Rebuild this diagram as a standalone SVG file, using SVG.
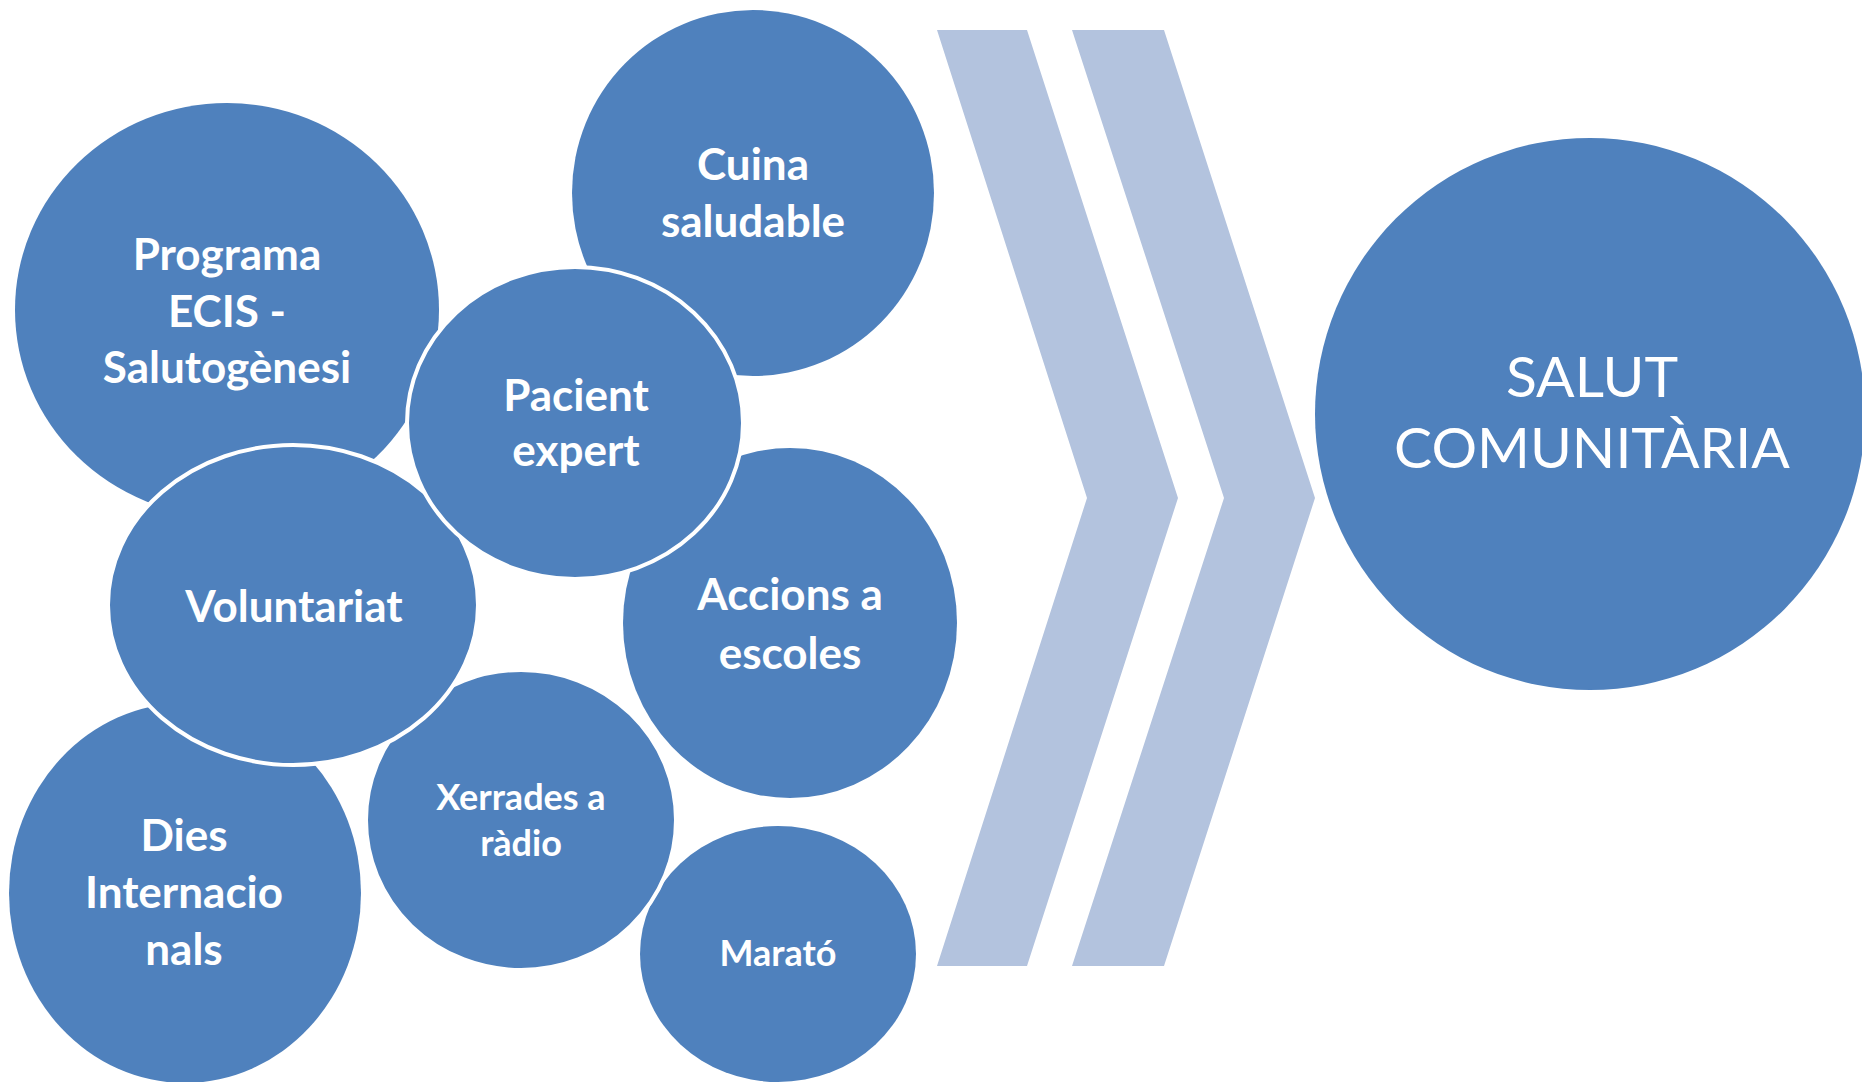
<svg xmlns="http://www.w3.org/2000/svg" width="1862" height="1082" viewBox="0 0 1862 1082">
<style>
.b{fill:#4F81BD}
.w{fill:#4F81BD;stroke:#FFFFFF;stroke-width:4}
.chev{fill:#B3C3DE}
.t{font-family:Lato,"Open Sans",sans-serif;font-weight:bold;fill:#FFFFFF;text-anchor:middle;font-size:44px}
.s{font-size:36px}
.r{font-family:Lato,"Open Sans",sans-serif;fill:#FFFFFF;text-anchor:middle;font-size:57px}
</style>
<rect width="1862" height="1082" fill="#FFFFFF"/>
<g id="connectors">
<polygon class="chev" points="937,30 1027,30 1178,498 1027,966 937,966 1087,498"/>
<polygon class="chev" points="1072,30 1164,30 1315,498 1164,966 1072,966 1224,498"/>
</g>
<g id="programa">
<ellipse class="b" cx="227" cy="310" rx="212" ry="207"/>
<text class="t" x="227" y="270">Programa</text>
<text class="t" x="227" y="327">ECIS -</text>
<text class="t" x="227" y="383">Salutogènesi</text>
</g>
<g id="cuina">
<ellipse class="b" cx="753" cy="193" rx="181" ry="183"/>
<text class="t" x="753" y="180">Cuina</text>
<text class="t" x="753" y="237">saludable</text>
</g>
<g id="accions">
<ellipse class="b" cx="790" cy="623" rx="167" ry="175"/>
<text class="t" x="790" y="610">Accions a</text>
<text class="t" x="790" y="669">escoles</text>
</g>
<g id="marato">
<ellipse class="b" cx="778" cy="954" rx="138" ry="128"/>
<text class="t s" x="778" y="966">Marató</text>
</g>
<g id="dies">
<ellipse class="b" cx="185" cy="893" rx="176" ry="190"/>
<text class="t" x="184" y="851">Dies</text>
<text class="t" x="184" y="908">Internacio</text>
<text class="t" x="184" y="965">nals</text>
</g>
<g id="xerrades">
<ellipse class="w" cx="521" cy="820" rx="155" ry="150"/>
<text class="t s" x="521" y="810">Xerrades a</text>
<text class="t s" x="521" y="856">ràdio</text>
</g>
<g id="voluntariat">
<ellipse class="w" cx="293" cy="605" rx="185" ry="160"/>
<text class="t" x="294" y="622">Voluntariat</text>
</g>
<g id="pacient">
<ellipse class="w" cx="575" cy="423" rx="168" ry="156"/>
<text class="t" x="576" y="411">Pacient</text>
<text class="t" x="576" y="466">expert</text>
</g>
<g id="salut">
<ellipse class="b" cx="1590" cy="414" rx="275" ry="276"/>
<text class="r" x="1592" y="397">SALUT</text>
<text class="r" x="1592" y="468">COMUNITÀRIA</text>
</g>
</svg>
